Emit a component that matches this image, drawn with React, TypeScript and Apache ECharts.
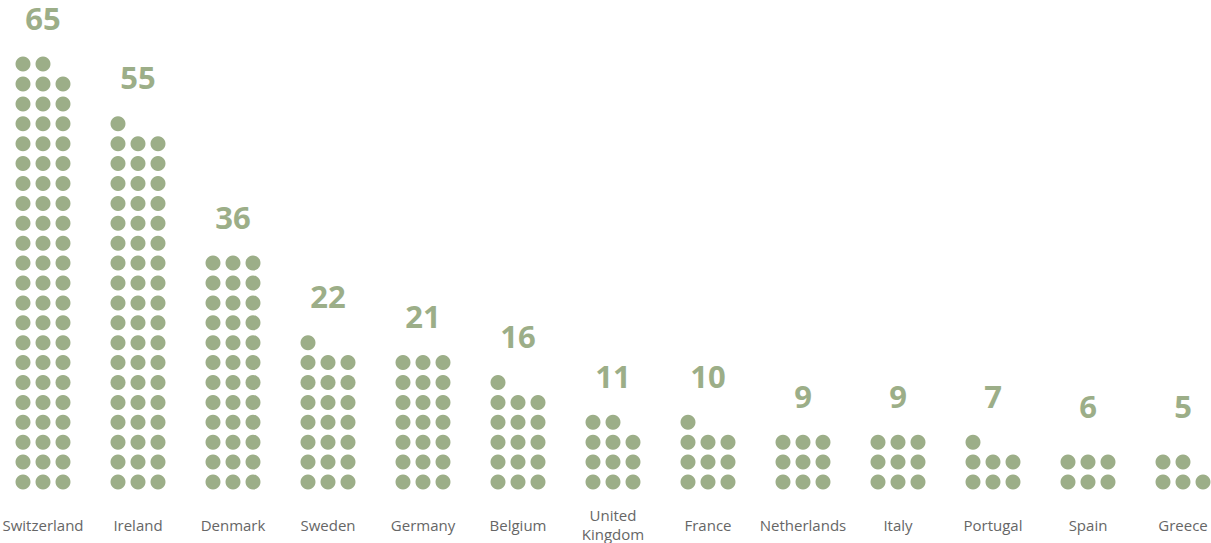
import React, { useEffect, useRef } from "react";
import * as echarts from "echarts";

const categories = [
  "Switzerland",
  "Ireland",
  "Denmark",
  "Sweden",
  "Germany",
  "Belgium",
  "United\nKingdom",
  "France",
  "Netherlands",
  "Italy",
  "Portugal",
  "Spain",
  "Greece",
];
const values = [65, 55, 36, 22, 21, 16, 11, 10, 9, 9, 7, 6, 5];

const DOTS_PER_ROW = 3;
const COL_STEP = 20 / 95; // horizontal dot step in category units
const LABEL_ABOVE = 2.33; // rows above top row for value label
const NAME_ROW = -2.16;
const MIN_LABEL_ROW = 3.82;

const GREEN = "#9cae88";
const GREY = "#666666";
const FONT = "'Open Sans', 'Noto Sans', sans-serif";

export default function App() {
  const ref = useRef<HTMLDivElement>(null);

  useEffect(() => {
    if (!ref.current) return;
    const chart = echarts.init(ref.current, undefined, { renderer: "svg" });

    const dots: number[][] = [];
    values.forEach((v, i) => {
      for (let k = 0; k < v; k++) {
        const row = Math.floor(k / DOTS_PER_ROW);
        const col = k % DOTS_PER_ROW;
        dots.push([i + (col - 1) * COL_STEP, row]);
      }
    });

    const valueLabels = values.map((v, i) => {
      const rows = Math.ceil(v / DOTS_PER_ROW);
      return { value: [i, Math.max(rows - 1 + LABEL_ABOVE, MIN_LABEL_ROW)], label: String(v) };
    });

    const nameLabels = categories.map((c, i) => ({ value: [i, NAME_ROW], label: c }));

    chart.setOption({
      animation: false,
      grid: { left: 0, top: 0, width: 1211, height: 543, containLabel: false },
      xAxis: {
        type: "value",
        min: -43 / 95,
        max: (1211 - 43) / 95,
        show: false,
      },
      yAxis: {
        type: "value",
        min: -3.065,
        max: 24.221,
        show: false,
      },
      series: [
        {
          type: "scatter",
          data: dots,
          symbol: "circle",
          symbolSize: 15,
          itemStyle: { color: GREEN, opacity: 1 },
          silent: true,
        },
        {
          type: "scatter",
          data: valueLabels,
          symbolSize: 1,
          clip: false,
          itemStyle: { color: "rgba(0,0,0,0)", opacity: 1 },
          label: {
            show: true,
            position: "inside",
            formatter: (p: any) => p.data.label,
            color: GREEN,
            fontFamily: FONT,
            fontWeight: "bold",
            fontSize: 31,
            lineHeight: 24,
          },
          silent: true,
        },
        {
          type: "scatter",
          data: nameLabels,
          symbolSize: 1,
          clip: false,
          itemStyle: { color: "rgba(0,0,0,0)", opacity: 1 },
          label: {
            show: true,
            position: "inside",
            formatter: (p: any) => p.data.label,
            color: GREY,
            fontFamily: FONT,
            fontSize: 15,
            lineHeight: 19,
            align: "center",
          },
          silent: true,
        },
      ],
    });

    return () => chart.dispose();
  }, []);

  return (
    <div
      ref={ref}
      style={{ position: "fixed", left: 0, top: 0, width: 1211, height: 543, background: "#ffffff" }}
    />
  );
}
